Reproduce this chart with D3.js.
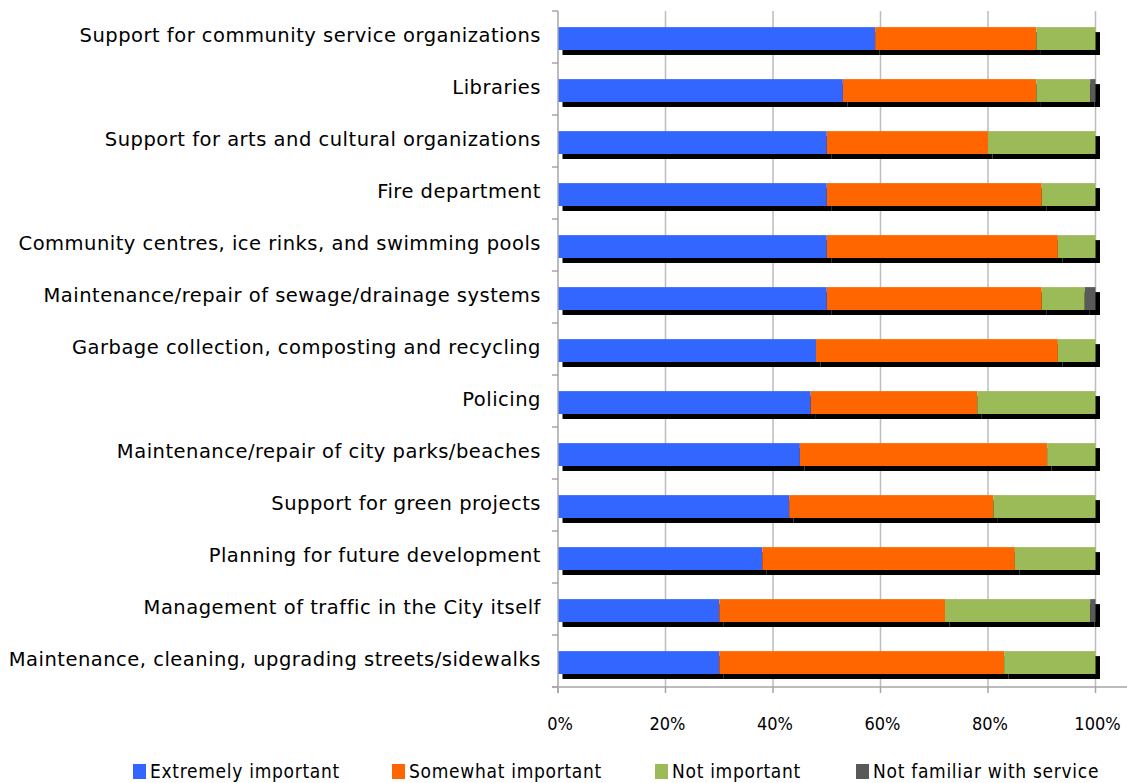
<!DOCTYPE html>
<html>
<head>
<meta charset="utf-8">
<script src="https://cdn.jsdelivr.net/npm/d3@7/dist/d3.min.js"></script>
<style>
  html, body { margin: 0; padding: 0; background: #fff; }
  svg { display: block; }
  .lbl { font-family: "DejaVu Sans", Verdana, sans-serif; font-size: 19.5px; letter-spacing: 0.5px; fill: #000; }
  .tick-lbl { font-family: "DejaVu Sans Condensed", "DejaVu Sans", sans-serif; font-size: 18px; fill: #000; }
  .leg { font-family: "DejaVu Sans Condensed", "DejaVu Sans", sans-serif; font-size: 19px; letter-spacing: 0.7px; fill: #000; }
</style>
</head>
<body>
<svg id="chart" width="1127" height="783"></svg>
<script>
// Services, top to bottom
const categories = [
  "Support for community service organizations",
  "Libraries",
  "Support for arts and cultural organizations",
  "Fire department",
  "Community centres, ice rinks, and swimming pools",
  "Maintenance/repair of sewage/drainage systems",
  "Garbage collection, composting and recycling",
  "Policing",
  "Maintenance/repair of city parks/beaches",
  "Support for green projects",
  "Planning for future development",
  "Management of traffic in the City itself",
  "Maintenance, cleaning, upgrading streets/sidewalks"
];

// Share of respondents (%) per response
const extremelyImportant = [59, 53, 50, 50, 50, 50, 48, 47, 45, 43, 38, 30, 30];
const somewhatImportant  = [30, 36, 30, 40, 43, 40, 45, 31, 46, 38, 47, 42, 53];
const notImportant       = [11, 10, 20, 10,  7,  8,  7, 22,  9, 19, 15, 27, 17];
const notFamiliar        = [ 0,  1,  0,  0,  0,  2,  0,  0,  0,  0,  0,  1,  0];

const seriesNames = ["Extremely important", "Somewhat important", "Not important", "Not familiar with service"];
const seriesColors = ["#3366FF", "#FF6600", "#9BBB59", "#595959"];
const tickValues = [0, 20, 40, 60, 80, 100];

const rows = categories.map((c, i) => ({
  category: c,
  "Extremely important": extremelyImportant[i],
  "Somewhat important": somewhatImportant[i],
  "Not important": notImportant[i],
  "Not familiar with service": notFamiliar[i]
}));

const svg = d3.select("#chart");

const plot = { left: 558, right: 1127, top: 11, bottom: 687 };

const x = d3.scaleLinear().domain([0, 100]).range([plot.left, 1095.5]);
const y = d3.scaleBand().domain(categories).range([plot.top, plot.bottom]).padding(0);
const barH = y.bandwidth() * 0.44;
const barOff = y.bandwidth() * 0.31;

const stacked = d3.stack().keys(seriesNames)(rows);

// vertical gridlines
svg.append("g")
  .selectAll("line")
  .data(tickValues.slice(1))
  .join("line")
  .attr("x1", d => x(d)).attr("x2", d => x(d))
  .attr("y1", plot.top).attr("y2", plot.bottom)
  .attr("stroke", "#bdbdbd").attr("stroke-width", 1.5);

// drop shadows behind each bar segment
svg.append("g")
  .selectAll("g")
  .data(stacked)
  .join("g")
  .selectAll("rect")
  .data(d => d.filter(s => s[1] - s[0] > 0))
  .join("rect")
  .attr("x", d => x(d[0]) + 4.5)
  .attr("y", d => y(d.data.category) + barOff + 5)
  .attr("width", d => x(d[1]) - x(d[0]))
  .attr("height", barH)
  .attr("fill", "#000");

// bar segments
svg.append("g")
  .selectAll("g")
  .data(stacked)
  .join("g")
  .attr("fill", (d, i) => seriesColors[i])
  .selectAll("rect")
  .data(d => d.filter(s => s[1] - s[0] > 0))
  .join("rect")
  .attr("x", d => x(d[0]))
  .attr("y", d => y(d.data.category) + barOff)
  .attr("width", d => x(d[1]) - x(d[0]))
  .attr("height", barH);

// left axis with ticks at category boundaries
const axisColor = "#a6a6a6";
svg.append("line")
  .attr("x1", plot.left).attr("x2", plot.left)
  .attr("y1", plot.top).attr("y2", plot.bottom + 6)
  .attr("stroke", axisColor).attr("stroke-width", 1.5);
const bounds = categories.map(c => y(c)).concat([plot.bottom]);
svg.append("g")
  .selectAll("line")
  .data(bounds)
  .join("line")
  .attr("x1", plot.left - 6).attr("x2", plot.left)
  .attr("y1", d => d).attr("y2", d => d)
  .attr("stroke", axisColor).attr("stroke-width", 1.5);

// category labels
svg.append("g")
  .selectAll("text")
  .data(categories)
  .join("text")
  .attr("class", "lbl")
  .attr("x", 541)
  .attr("y", d => y(d) + barOff + barH / 2 - 3)
  .attr("text-anchor", "end")
  .attr("dominant-baseline", "central")
  .text(d => d);

// bottom axis
svg.append("line")
  .attr("x1", plot.left - 6).attr("x2", plot.right)
  .attr("y1", plot.bottom).attr("y2", plot.bottom)
  .attr("stroke", axisColor).attr("stroke-width", 1.5);
svg.append("g")
  .selectAll("line")
  .data(tickValues)
  .join("line")
  .attr("x1", d => x(d)).attr("x2", d => x(d))
  .attr("y1", plot.bottom).attr("y2", plot.bottom + 6)
  .attr("stroke", axisColor).attr("stroke-width", 1.5);
svg.append("g")
  .selectAll("text")
  .data(tickValues)
  .join("text")
  .attr("class", "tick-lbl")
  .attr("x", d => x(d) + 2)
  .attr("y", 730)
  .attr("text-anchor", "middle")
  .text(d => d + "%");

// legend
const legendX = [133, 392, 655, 856];
const legend = svg.append("g")
  .selectAll("g")
  .data(seriesNames)
  .join("g")
  .attr("transform", (d, i) => `translate(${legendX[i]},764)`);
legend.append("rect")
  .attr("width", 13).attr("height", 15)
  .attr("fill", (d, i) => seriesColors[i]);
legend.append("text")
  .attr("class", "leg")
  .attr("x", 17).attr("y", 13.5)
  .text(d => d);
</script>
</body>
</html>
